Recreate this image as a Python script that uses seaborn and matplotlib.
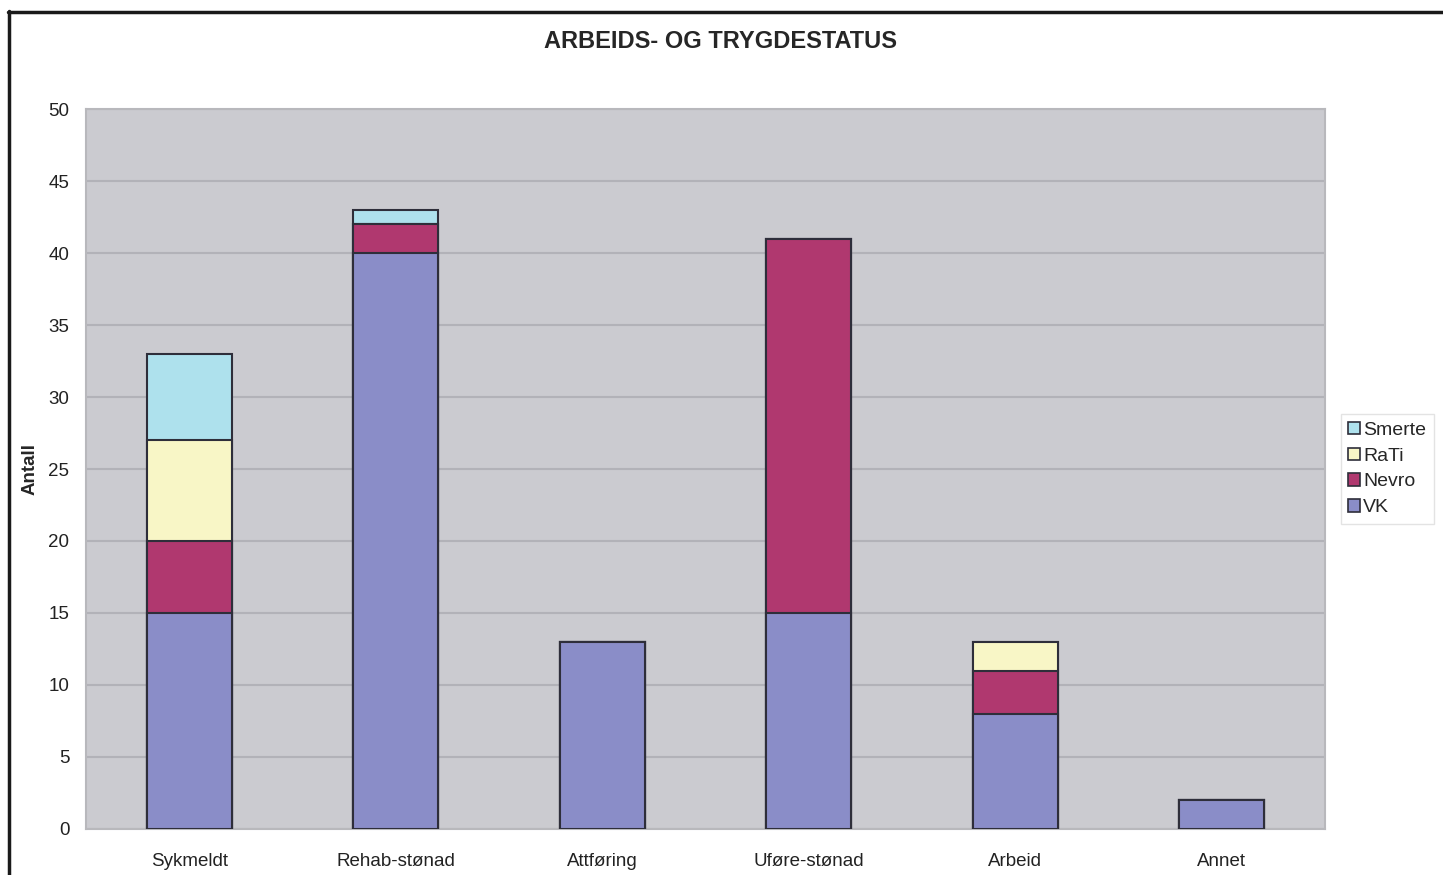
import seaborn as sns
import matplotlib.pyplot as plt
import pandas as pd
from matplotlib.patches import Patch
from matplotlib.lines import Line2D

categories = ["Sykmeldt", "Rehab-stønad", "Attføring", "Uføre-stønad", "Arbeid", "Annet"]
vk = [15, 40, 13, 15, 8, 2]
nevro = [5, 2, 0, 26, 3, 0]
rati = [7, 0, 0, 0, 2, 0]
smerte = [6, 1, 0, 0, 0, 0]

series = ["VK", "Nevro", "RaTi", "Smerte"]
colors = {"VK": "#8a8dc8", "Nevro": "#b0386f", "RaTi": "#f8f6c6", "Smerte": "#aee1ed"}

df = pd.DataFrame({"kategori": categories, "VK": vk, "Nevro": nevro, "RaTi": rati, "Smerte": smerte})
# cumulative tops, drawn tallest first so each layer overlays the one above it
cum = df[series].cumsum(axis=1)

sns.set_style("white")
plt.rcParams["font.family"] = ["Liberation Sans", "DejaVu Sans"]

fig = plt.figure(figsize=(14.43, 8.75), dpi=100)
ax = fig.add_axes([0.0596, 0.0526, 0.8586, 0.8228])
ax.set_facecolor("#cbcbd0")

for s in reversed(series):
    d = pd.DataFrame({"kategori": categories, "top": cum[s]})
    sns.barplot(data=d, x="kategori", y="top", color=colors[s], width=0.41,
                edgecolor="#2e2e3a", linewidth=1.5, saturation=1, ax=ax, zorder=3)

ax.set_ylim(0, 50)
ax.set_yticks(range(0, 51, 5))
ax.yaxis.grid(True, color="#b2b2b8", linewidth=1.5, zorder=0)
ax.set_axisbelow(True)
for sp in ax.spines.values():
    sp.set_color("#b8b8bc")
    sp.set_linewidth(1.5)

ax.tick_params(axis="both", length=0, labelsize=13.5, colors="#222222")
ax.tick_params(axis="x", pad=17)
ax.tick_params(axis="y", pad=12)
ax.set_xlabel("")
ax.set_ylabel("Antall", fontsize=13.5, fontweight="bold")
ax.yaxis.set_label_coords(-0.038, 0.5)
fig.suptitle("ARBEIDS- OG TRYGDESTATUS", x=0.499, y=0.966, fontsize=17, fontweight="bold")

handles = [Patch(facecolor=colors[s], edgecolor="#2e2e3a", linewidth=1.2, label=s)
           for s in reversed(series)]
fig.legend(handles=handles, loc="center left", bbox_to_anchor=(0.929, 0.464),
           fontsize=14, frameon=True, fancybox=False, edgecolor="#dddddd",
           handlelength=0.6, handleheight=0.6, handletextpad=0.15, labelspacing=0.45,
           borderpad=0.4, borderaxespad=0)

# frame lines along the left and top edges of the picture
fig.add_artist(Line2D([0.0065, 0.0065], [0, 0.987], color="#1a1a1a", linewidth=2.5))
fig.add_artist(Line2D([0.0055, 1.0], [0.986, 0.986], color="#1a1a1a", linewidth=2.5))

fig.savefig("out.png", dpi=100)
